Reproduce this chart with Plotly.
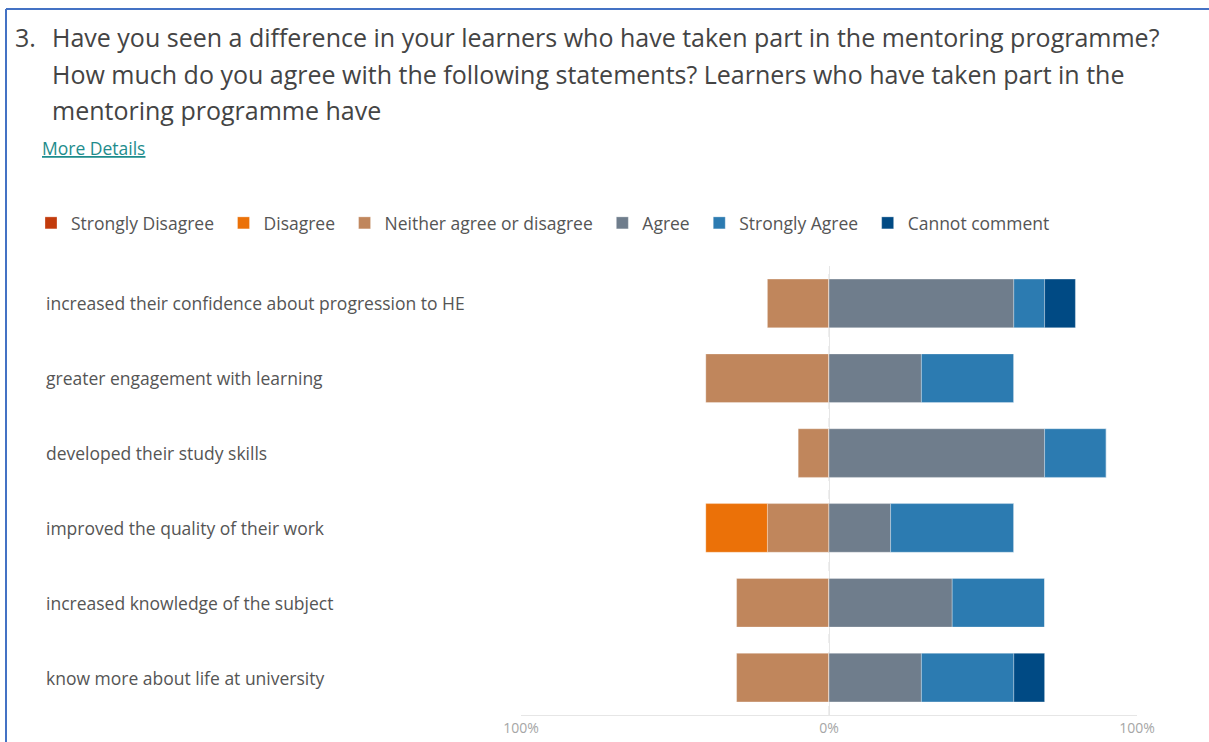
import plotly.graph_objects as go

W, H = 1209, 742
ML, MR, MT, MB = 521, 72, 266, 27
FONT = "Open Sans"

statements = [
    "increased their confidence about progression to HE",
    "greater engagement with learning",
    "developed their study skills",
    "improved the quality of their work",
    "increased knowledge of the subject",
    "know more about life at university",
]
strongly_disagree = [0, 0, 0, 0, 0, 0]
disagree = [0, 0, 0, 20, 0, 0]
neither = [20, 40, 10, 20, 30, 30]
agree = [60, 30, 70, 20, 40, 30]
strongly_agree = [10, 30, 20, 40, 30, 30]
cannot_comment = [10, 0, 0, 0, 0, 10]

xticks = [-100, 0, 100]
xticklabels = ["100%", "0%", "100%"]


def px_x(p):
    return (p - ML) / (W - ML - MR)


def px_y(p):
    return (H - MB - p) / (H - MT - MB)


fig = go.Figure()

# negative side is stacked outwards from 0 in trace order, so neutral goes first
series = [
    ("Neither agree or disagree", neither, -1, "#C0865C", 3),
    ("Disagree", disagree, -1, "#EB7108", 2),
    ("Strongly Disagree", strongly_disagree, -1, "#C23B0C", 1),
    ("Agree", agree, 1, "#6F7D8C", 4),
    ("Strongly Agree", strongly_agree, 1, "#2C7BB1", 5),
    ("Cannot comment", cannot_comment, 1, "#004A84", 6),
]
for name, vals, sign, clr, rank in series:
    fig.add_bar(
        y=statements, x=[sign * v for v in vals], orientation="h", name=name + "\u00a0",
        marker=dict(color=clr, line=dict(width=0.5, color="rgba(255,255,255,0.6)")),
        legendrank=rank, width=0.65,
        customdata=vals, hovertemplate="%{y}<br>" + name + ": %{customdata}%<extra></extra>",
    )

fig.add_vline(x=0, line=dict(color="#dcdcdc", width=1, dash="dash"), layer="below")

for s in statements:
    fig.add_annotation(
        x=px_x(44), xref="paper", y=s, yref="y", text=s, showarrow=False,
        xanchor="left", yanchor="middle", font=dict(family=FONT, size=17.5, color="#555555"),
    )

title_lines = [
    "Have you seen a difference in your learners who have taken part in the mentoring programme?",
    "How much do you agree with the following statements? Learners who have taken part in the",
    "mentoring programme have",
]
fig.add_annotation(
    x=px_x(13), y=px_y(37), xref="paper", yref="paper", text="3.", showarrow=False,
    xanchor="left", yanchor="middle", font=dict(family=FONT, size=25, color="#444444"),
)
for i, line in enumerate(title_lines):
    fig.add_annotation(
        x=px_x(50), y=px_y(37 + 36.5 * i), xref="paper", yref="paper", text=line,
        showarrow=False, xanchor="left", yanchor="middle",
        font=dict(family=FONT, size=25, color="#444444"),
    )
fig.add_annotation(
    x=px_x(40), y=px_y(148), xref="paper", yref="paper", text="More Details",
    showarrow=False, xanchor="left", yanchor="middle",
    font=dict(family=FONT, size=17.5, color="#1E8C8C", lineposition="under"),
)

# card border (top and left edges)
fig.add_shape(type="line", xref="paper", yref="paper", x0=px_x(6), x1=px_x(1209),
              y0=px_y(9), y1=px_y(9), line=dict(color="#4472C4", width=2))
fig.add_shape(type="line", xref="paper", yref="paper", x0=px_x(6), x1=px_x(6),
              y0=px_y(9), y1=px_y(742), line=dict(color="#4472C4", width=2))

fig.update_layout(
    width=W, height=H, barmode="relative", bargap=0.35,
    margin=dict(l=ML, r=MR, t=MT, b=MB, autoexpand=False),
    paper_bgcolor="white", plot_bgcolor="white",
    font=dict(family=FONT, color="#555555"),
    legend=dict(
        orientation="h", x=px_x(31), xanchor="left", y=px_y(223), yanchor="middle",
        font=dict(family=FONT, size=17.5, color="#555555"), itemwidth=30,
        traceorder="normal",
    ),
    xaxis=dict(
        range=[-100, 100], tickvals=xticks, ticktext=xticklabels,
        showgrid=True, gridcolor="#e6e6e6", zeroline=False,
        showline=True, linecolor="#e6e6e6", ticks="",
        tickfont=dict(family=FONT, size=14, color="#a6a6a6"), fixedrange=True,
    ),
    yaxis=dict(
        autorange="reversed", showticklabels=False, showgrid=False, zeroline=False,
        fixedrange=True,
    ),
)

fig.write_html("out.html", config={"displayModeBar": False},
               post_script="document.body.style.margin = '0';")
